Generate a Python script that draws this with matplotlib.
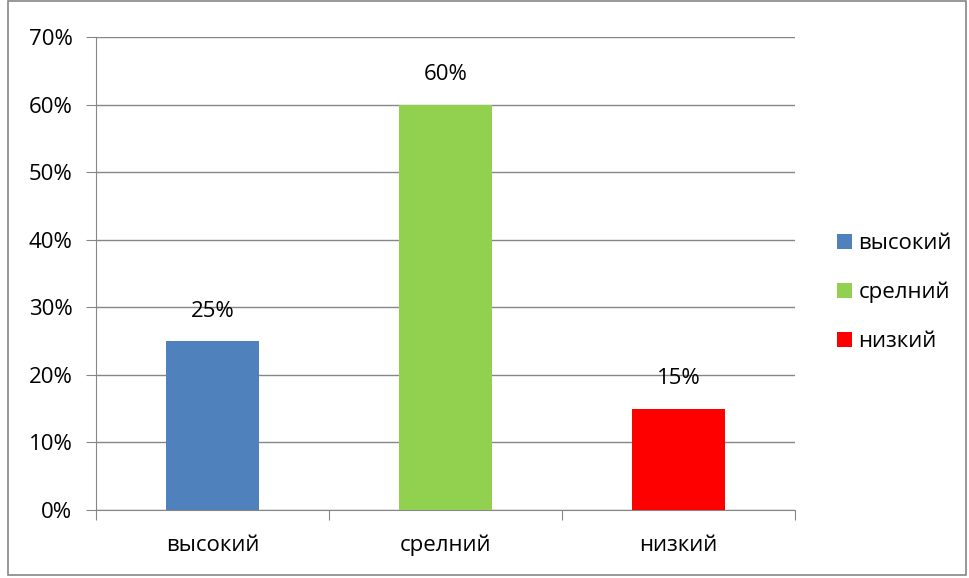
import numpy as np
from matplotlib import pyplot as plt
from matplotlib.patches import Rectangle

# data
categories = ['высокий', 'срелний', 'низкий']
values = [25, 60, 15]
colors = ['#4F81BD', '#92D050', '#FF0000']
yticks = [0, 10, 20, 30, 40, 50, 60, 70]

plt.rcParams['font.family'] = ['Open Sans', 'DejaVu Sans']
grid_col = '#868686'
fs = 16

fig = plt.figure(figsize=(9.69, 5.78), dpi=100)
ax = fig.add_axes([96/969, 68/578, 699/969, 473/578])

x = np.arange(len(categories))
bars = ax.bar(x, values, width=0.4, color=colors, zorder=3, label=categories)

for xi, v in zip(x, values):
    ax.text(xi, v + 4.4, '%d%%' % v, ha='center', va='center', fontsize=fs)

ax.set_xlim(-0.5, len(categories) - 0.5)
ax.set_ylim(0, 70)
ax.set_yticks(yticks)
ax.set_yticklabels(['%d%%' % t for t in yticks], fontsize=fs)
ax.yaxis.grid(True, color=grid_col, linewidth=1, zorder=0)

# category boundaries as tick marks, labels in between
ax.set_xticks(np.arange(-0.5, len(categories)), minor=False)
ax.set_xticklabels([])
ax.set_xticks(x, minor=True)
ax.set_xticklabels(categories, minor=True, fontsize=fs)
ax.tick_params(axis='x', which='minor', length=0, pad=18)
ax.tick_params(axis='x', which='major', length=7, color=grid_col, direction='out')
ax.tick_params(axis='y', length=7, color=grid_col, pad=10)

for s in ['top', 'right']:
    ax.spines[s].set_visible(False)
for s in ['left', 'bottom']:
    ax.spines[s].set_color(grid_col)

ax.legend(bars, categories, loc='center left', bbox_to_anchor=(1.032, 0.46),
          frameon=False, fontsize=fs, handlelength=0.65, handleheight=0.65,
          handletextpad=0.3, labelspacing=1.25)

# outer chart border
fig.add_artist(Rectangle((8/969, 3/578), 958/969, 574/578, transform=fig.transFigure,
                         fill=False, edgecolor='#868686', linewidth=1.2))

fig.savefig('out.png', dpi=100)
